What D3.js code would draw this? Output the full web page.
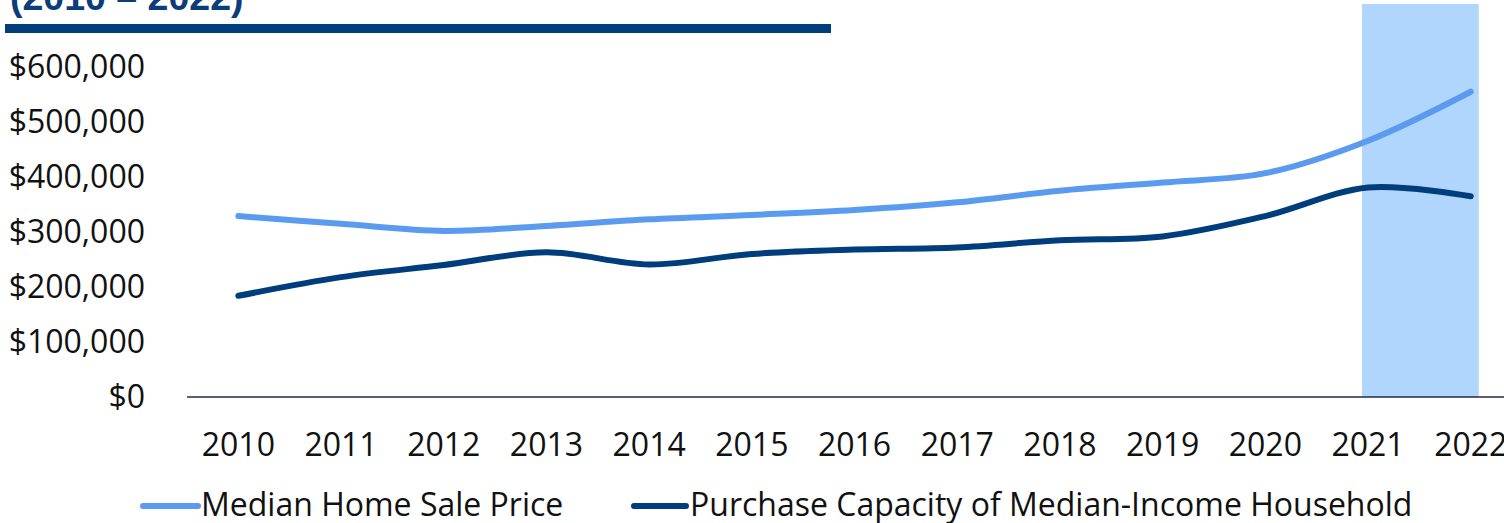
<!DOCTYPE html>
<html>
<head>
<meta charset="utf-8">
<script src="https://cdn.jsdelivr.net/npm/d3@7"></script>
<style>
  html, body { margin: 0; padding: 0; background: #fff; }
  svg { display: block; font-family: "Open Sans", "Noto Sans", sans-serif; }
</style>
</head>
<body>
<div id="chart"></div>
<script>
"use strict";

// ---------------------------------------------------------------------------
// Data
// ---------------------------------------------------------------------------

const years = [2010, 2011, 2012, 2013, 2014, 2015, 2016, 2017, 2018, 2019, 2020, 2021, 2022];
const medianPrice = [329000, 315000, 302000, 311000, 323000, 331000, 340000, 354000, 375000, 390000, 407000, 466000, 555000];
const purchaseCapacity = [184000, 218000, 240000, 263000, 241000, 260000, 268000, 272000, 285000, 292000, 329000, 381000, 365000];
const yTicks = [0, 100000, 200000, 300000, 400000, 500000, 600000];
const highlightYears = [2021, 2022];

const seriesNames = ["Median Home Sale Price", "Purchase Capacity of Median-Income Household"];
const colors = ["#5b9bef", "#003d7c"];

// ---------------------------------------------------------------------------
// Layout
// ---------------------------------------------------------------------------

const width = 1504;
const height = 523;
const plot = { left: 187, right: 1504, top: 67, bottom: 397 };
const fontSize = 32;

const svg = d3.select("#chart").append("svg")
  .attr("width", width)
  .attr("height", height);

const x = d3.scaleBand()
  .domain(years)
  .range([plot.left, plot.left + 102.7 * years.length]);

const y = d3.scaleLinear()
  .domain([0, 600000])
  .range([plot.bottom, plot.top]);

const cx = (yr) => x(yr) + x.bandwidth() / 2;

// Title remnant + rule
svg.append("text")
  .attr("x", 10)
  .attr("y", 10)
  .attr("fill", "#0b3d7a")
  .attr("font-family", "Liberation Sans, Arial, sans-serif")
  .attr("font-weight", "bold")
  .attr("font-size", 37.5)
  .text("(2010 \u2013 2022)");

svg.append("rect")
  .attr("x", 5)
  .attr("y", 24)
  .attr("width", 826)
  .attr("height", 9)
  .attr("fill", "#003d7c");

// Highlight band
svg.append("rect")
  .attr("x", cx(highlightYears[0]) - 6)
  .attr("y", 4)
  .attr("width", cx(highlightYears[1]) - cx(highlightYears[0]) + 14)
  .attr("height", y(0) - 4)
  .attr("fill", "#b1d6fd");

// Y axis labels
svg.append("g")
  .selectAll("text")
  .data(yTicks)
  .join("text")
  .attr("x", 145)
  .attr("y", (d) => y(d))
  .attr("dy", "0.35em")
  .attr("text-anchor", "end")
  .attr("font-size", fontSize)
  .attr("fill", "#111")
  .text((d) => "$" + d3.format(",")(d));

// X axis line
svg.append("line")
  .attr("x1", plot.left)
  .attr("x2", plot.right)
  .attr("y1", y(0))
  .attr("y2", y(0))
  .attr("stroke", "#1f2d3d")
  .attr("stroke-width", 1.5);

// X labels
svg.append("g")
  .selectAll("text")
  .data(years)
  .join("text")
  .attr("x", (d) => cx(d))
  .attr("y", 456)
  .attr("text-anchor", "middle")
  .attr("font-size", fontSize)
  .attr("fill", "#111")
  .text((d) => d);

// Lines
const line = d3.line()
  .x((d, i) => cx(years[i]))
  .y((d) => y(d))
  .curve(d3.curveCatmullRom.alpha(0.5));

[medianPrice, purchaseCapacity].forEach((vals, i) => {
  svg.append("path")
    .datum(vals)
    .attr("d", line)
    .attr("fill", "none")
    .attr("stroke", colors[i])
    .attr("stroke-width", 6)
    .attr("stroke-linecap", "round");
});

// Legend
const legendItems = [
  { x: 143, w: 55, tx: 201 },
  { x: 634, w: 52, tx: 690 },
];
legendItems.forEach((it, i) => {
  const g = svg.append("g");
  g.append("line")
    .attr("x1", it.x).attr("x2", it.x + it.w)
    .attr("y1", 506).attr("y2", 506)
    .attr("stroke", colors[i])
    .attr("stroke-width", 6)
    .attr("stroke-linecap", "round");
  g.append("text")
    .attr("x", it.tx)
    .attr("y", 516)
    .attr("font-size", fontSize)
    .attr("fill", "#111")
    .text(seriesNames[i]);
});
</script>
</body>
</html>
